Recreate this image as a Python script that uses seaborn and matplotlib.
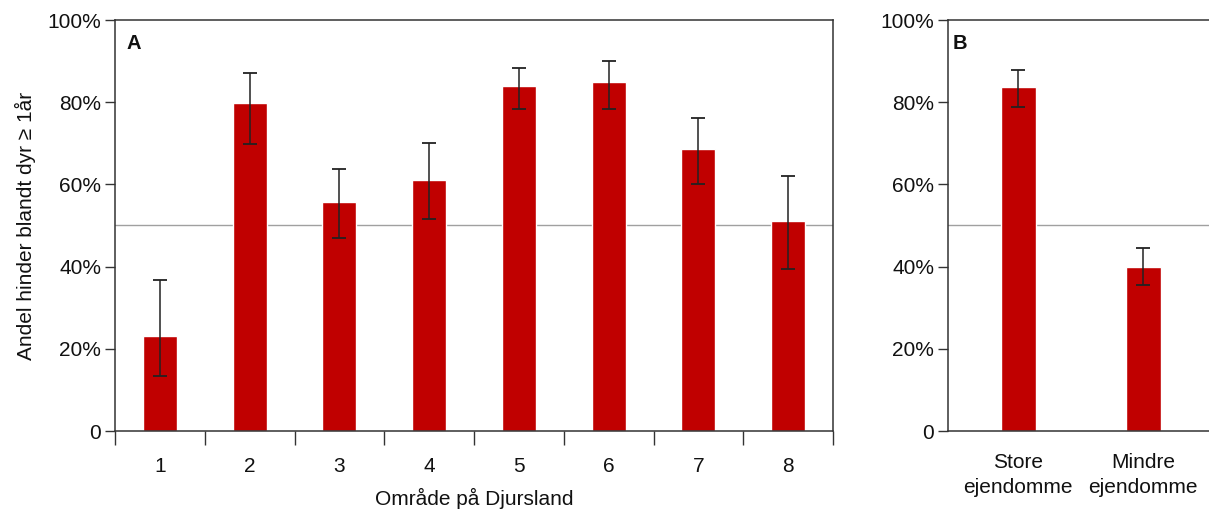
import matplotlib
matplotlib.use("Agg")
import matplotlib.pyplot as plt
import seaborn as sns
import numpy as np
import pandas as pd
from matplotlib.ticker import FuncFormatter, FixedLocator

# ---- data ----
areas = ["1", "2", "3", "4", "5", "6", "7", "8"]
area_pct = [23.1, 79.8, 55.6, 61.0, 84.0, 84.9, 68.5, 51.0]
area_lo = [13.3, 69.9, 46.9, 51.6, 78.3, 78.3, 60.0, 39.5]
area_hi = [36.8, 87.1, 63.7, 70.0, 88.4, 90.0, 76.2, 62.1]

sizes = ["Store\nejendomme", "Mindre\nejendomme"]
size_pct = [83.7, 40.0]
size_lo = [78.9, 35.5]
size_hi = [87.8, 44.5]

ref_line = 50
yticks = [0, 20, 40, 60, 80, 100]

sns.set_theme(style="white")
plt.rcParams['font.family'] = ['Liberation Sans', 'DejaVu Sans']

RED = "#C00000"
FS = 15
fig = plt.figure(figsize=(12.09, 5.11), dpi=100)
axA = fig.add_axes([115/1209, 1-431/511, (833-115)/1209, (431-20)/511])
axB = fig.add_axes([948/1209, 1-431/511, (1212-948)/1209, (431-20)/511])

dfA = pd.DataFrame({"area": areas, "pct": area_pct})
dfB = pd.DataFrame({"size": sizes, "pct": size_pct})

sns.barplot(data=dfA, x="area", y="pct", color=RED, saturation=1, width=0.38, ax=axA)
sns.barplot(data=dfB, x="size", y="pct", color=RED, saturation=1, width=0.28, ax=axB)

fmt = FuncFormatter(lambda v, p: "0" if v == 0 else f"{int(v)}%")

def style(ax, lo, hi, vals, label):
    xs = np.arange(len(vals))
    ax.errorbar(xs, vals,
                yerr=[np.array(vals) - np.array(lo), np.array(hi) - np.array(vals)],
                fmt="none", ecolor="#222222", elinewidth=1.1, capsize=5, capthick=1.3)
    ax.axhline(ref_line, color="#a0a0a0", lw=1.0, zorder=0.5)
    ax.set_ylim(0, 100)
    ax.yaxis.set_major_locator(FixedLocator(yticks))
    ax.yaxis.set_major_formatter(fmt)
    ax.tick_params(axis="y", direction="out", length=7, width=1, color="#333333",
                   labelsize=FS, pad=3, left=True, labelcolor="#111111")
    for s in ax.spines.values():
        s.set_color("#333333")
        s.set_linewidth(1.1)
    ax.text(0.016, 0.965, label, transform=ax.transAxes, fontsize=14.5,
            fontweight="bold", va="top", ha="left", color="#111111")
    ax.set_ylabel("")
    ax.set_xlabel("")

style(axA, area_lo, area_hi, area_pct, "A")
style(axB, size_lo, size_hi, size_pct, "B")

# Panel A x axis
axA.set_xlim(-0.5, len(areas) - 0.5)
axA.set_xticks(np.arange(len(areas)))
axA.set_xticklabels(areas, fontsize=FS, color="#111111")
axA.tick_params(axis="x", length=0, pad=19)
axA.set_xticks(np.arange(-0.5, len(areas)), minor=True)
axA.tick_params(axis="x", which="minor", direction="out", length=10, width=1,
                color="#333333", bottom=True)
axA.set_xlabel("Område på Djursland", fontsize=FS, labelpad=8, color="#111111")
axA.set_ylabel("Andel hinder blandt dyr ≥ 1år", fontsize=FS, labelpad=8,
               color="#111111")

# Panel B x axis
axB.set_xlim(-0.56, 1.55)
axB.tick_params(axis="x", length=0, labelsize=FS, pad=16, labelcolor="#111111")
for t in axB.get_xticklabels():
    t.set_linespacing(1.4)

fig.savefig("out.png", dpi=100)
